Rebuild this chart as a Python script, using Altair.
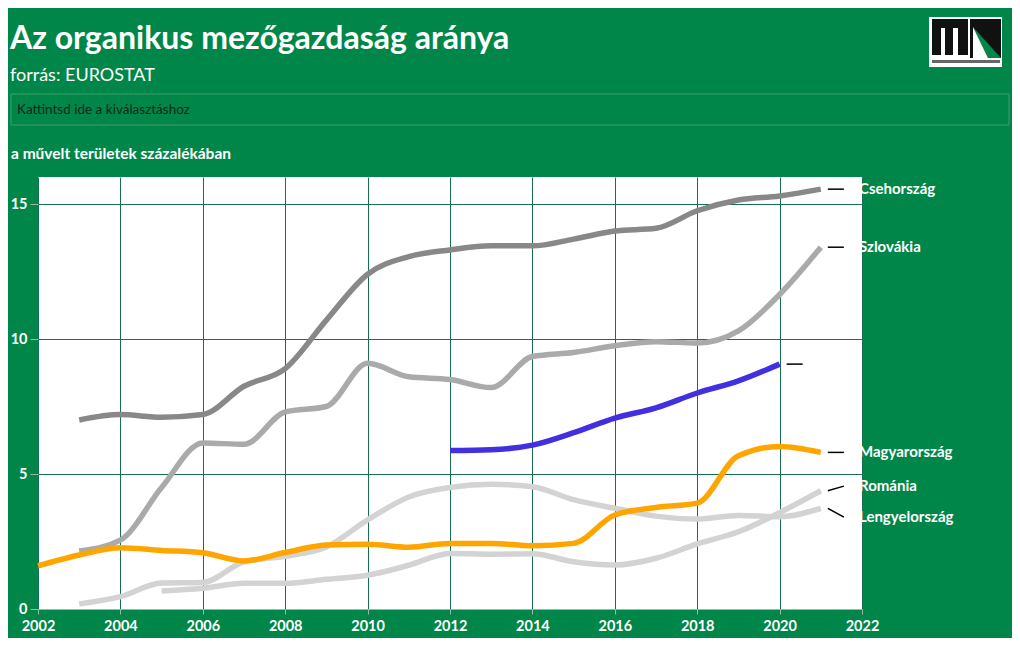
import altair as alt
import pandas as pd

# ---------------- data ----------------
years = list(range(2002, 2022))
cz = [None, 7.0, 7.2, 7.1, 7.2, 8.25, 8.9, 10.7, 12.4, 13.05, 13.3, 13.45, 13.45, 13.7, 14.0, 14.1, 14.75, 15.15, 15.3, 15.55]
sk = [None, 2.15, 2.55, 4.5, 6.15, 6.1, 7.3, 7.5, 9.1, 8.6, 8.5, 8.2, 9.35, 9.5, 9.75, 9.9, 9.85, 10.3, 11.65, 13.4]
eu = [None, None, None, None, None, None, None, None, None, None, 5.87, 5.9, 6.07, 6.53, 7.07, 7.45, 8.0, 8.45, 9.07, None]
hu = [1.6, 2.0, 2.27, 2.17, 2.08, 1.78, 2.09, 2.37, 2.4, 2.29, 2.43, 2.43, 2.34, 2.43, 3.48, 3.76, 3.92, 5.68, 6.02, 5.8]
pl = [None, 0.19, 0.46, 0.96, 0.98, 1.75, 1.95, 2.3, 3.3, 4.15, 4.5, 4.62, 4.53, 4.05, 3.73, 3.44, 3.33, 3.46, 3.42, 3.73]
ro = [None, None, None, 0.67, 0.77, 0.95, 0.95, 1.1, 1.25, 1.62, 2.06, 2.03, 2.05, 1.75, 1.63, 1.88, 2.41, 2.86, 3.57, 4.38]

series_names = ["Lengyelország", "Románia", "Szlovákia", "Csehország", "EU", "Magyarország"]
series_values = [pl, ro, sk, cz, eu, hu]
series_colors = ["#d3d3d3", "#d3d3d3", "#aaaaaa", "#888888", "#4030e0", "#ffa500"]

label_texts = ["Csehország", "Szlovákia", "", "Magyarország", "Románia", "Lengyelország"]
label_end_year = [2021, 2021, 2020, 2021, 2021, 2021]
label_end_value = [15.55, 13.4, 9.07, 5.8, 4.38, 3.73]
label_position = [15.55, 13.4, 9.07, 5.8, 4.55, 3.4]

x_ticks = list(range(2002, 2023, 2))
y_ticks = [0, 5, 10, 15]

BG = "#008649"
GRID = "#176f52"
TICK = "#a3b5aa"
FONT = "Lato"

W, H = 824, 432
OX, OY = 38, 177  # page position of plot origin


def px(x):
    return x - OX


def py(y):
    return y - OY


xscale = alt.Scale(domain=[2002, 2022], nice=False, zero=False)
yscale = alt.Scale(domain=[0, 16], nice=False)

xaxis = alt.Axis(values=x_ticks, format="d", title=None, labelFont=FONT, labelFontWeight="bold",
                 labelFontSize=14.5, labelColor="white", tickColor=TICK, tickSize=5, domainColor=TICK,
                 gridColor=GRID, gridOpacity=1, labelPadding=5, labelFlush=False)
yaxis = alt.Axis(values=y_ticks, title=None, labelFont=FONT, labelFontWeight="bold",
                 labelFontSize=14.5, labelColor="white", tickColor=TICK, tickSize=8, domain=False,
                 gridColor=GRID, gridOpacity=1, labelPadding=3)

layers = []

# grid / axes carrier
axis_df = pd.DataFrame({"year": [2002, 2022], "value": [0, 16]})
layers.append(
    alt.Chart(axis_df).mark_point(opacity=0).encode(
        x=alt.X("year:Q", scale=xscale, axis=xaxis),
        y=alt.Y("value:Q", scale=yscale, axis=yaxis),
    )
)

for name, vals, col in zip(series_names, series_values, series_colors):
    df = pd.DataFrame({"year": years, "value": vals}).dropna()
    layers.append(
        alt.Chart(df).mark_line(interpolate="monotone", strokeWidth=5.5, color=col, strokeCap="butt").encode(
            x=alt.X("year:Q", scale=xscale),
            y=alt.Y("value:Q", scale=yscale),
        )
    )

lab_df = pd.DataFrame({
    "label": label_texts,
    "end_year": label_end_year,
    "end_value": label_end_value,
    "pos": label_position,
})

layers.append(
    alt.Chart(lab_df).transform_calculate(
        xa="datum.end_year + 0.17", xb="datum.end_year + 0.56"
    ).mark_rule(color="black", strokeWidth=1.5).encode(
        x=alt.X("xa:Q", scale=xscale), x2="xb:Q",
        y=alt.Y("end_value:Q", scale=yscale), y2="pos:Q",
    )
)

layers.append(
    alt.Chart(lab_df).mark_text(align="left", baseline="middle", font=FONT, fontWeight="bold",
                                fontSize=15, color="white", dx=-3).encode(
        x=alt.value(W),
        y=alt.Y("pos:Q", scale=yscale),
        text="label:N",
    )
)

one = pd.DataFrame({"k": [0]})


def txt(text, x, y, size, weight="normal", color="white", baseline="alphabetic"):
    return alt.Chart(one).mark_text(text=text, align="left", baseline=baseline, font=FONT,
                                    fontSize=size, fontWeight=weight, color=color).encode(
        x=alt.value(px(x)), y=alt.value(py(y)))


def rect(x1, y1, x2, y2, fill, stroke=None):
    kw = dict(fill=fill)
    if stroke:
        kw.update(stroke=stroke, strokeWidth=1)
    return alt.Chart(one).mark_rect(**kw).encode(
        x=alt.value(px(x1)), x2=alt.value(px(x2)), y=alt.value(py(y1)), y2=alt.value(py(y2)))


layers.append(txt("Az organikus mezőgazdaság aránya", 10, 49, 32, "bold"))
layers.append(txt("forrás: EUROSTAT", 10, 81, 18))
layers.append(rect(11, 94, 1009, 125, BG, "#3f9f70"))
layers.append(txt("Kattintsd ide a kiválasztáshoz", 17, 110, 13.5, color="#14261b", baseline="middle"))
layers.append(txt("a művelt területek százalékában", 11, 159, 15.5, "bold"))

# logo
layers.append(rect(929, 17, 1002, 67, "white"))
layers.append(rect(932, 19, 968, 55, "#111111"))
layers.append(rect(941, 28, 945, 55, "white"))
layers.append(rect(953, 28, 958, 55, "white"))
layers.append(rect(970, 19, 1001, 58, "#111111"))
layers.append(
    alt.Chart(one).mark_point(shape="M -0.6 -0.575 L 0.15 0.975 L 0.8 0.975 Z", size=1600,
                              filled=True, fill="#008649", strokeWidth=0, opacity=1).encode(
        x=alt.value(px(985)), y=alt.value(py(38.5)))
)
layers.append(
    alt.Chart(one).mark_point(shape="M -0.6 -0.575 L -0.6 0.975 L 0.15 0.975 Z", size=1600,
                              filled=True, fill="white", strokeWidth=0, opacity=1).encode(
        x=alt.value(px(985)), y=alt.value(py(38.5)))
)
layers.append(rect(932, 60, 1000, 63, "#666666"))

chart = alt.layer(*layers).properties(
    width=W, height=H,
    autosize=alt.AutoSizeParams(type="none"),
    padding={"left": OX - 8, "top": OY - 8, "right": 1020 - 16 - (OX - 8) - W, "bottom": 650 - 16 - (OY - 8) - H - 4},
    background=BG,
).configure_view(stroke=None, fill="white")

chart.save("out.html", embed_options={"renderer": "svg", "actions": False})
